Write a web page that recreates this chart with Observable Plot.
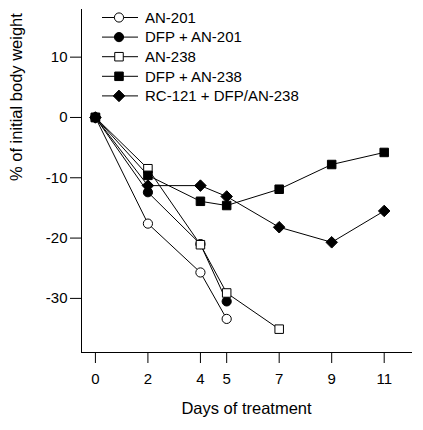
<!DOCTYPE html>
<html><head><meta charset="utf-8">
<script src="https://cdn.jsdelivr.net/npm/d3@7"></script>
<script src="https://cdn.jsdelivr.net/npm/@observablehq/plot@0.6"></script>
<style>
body{margin:0;background:#fff}
svg{font-family:"Liberation Sans",Arial,Helvetica,sans-serif}
</style>
</head><body><div id="chart"></div>
<script>
// ---- data ----
const xTickDays = [0, 2, 4, 5, 7, 9, 11];
const yTickValues = [-30, -20, -10, 0, 10];
const seriesNames = ["AN-201", "DFP + AN-201", "AN-238", "DFP + AN-238", "RC-121 + DFP/AN-238"];
const daysAN201 = [0, 2, 4, 5];
const valuesAN201 = [0, -17.6, -25.7, -33.4];
const daysDFPAN201 = [0, 2, 4, 5];
const valuesDFPAN201 = [0, -12.4, -21.0, -30.5];
const daysAN238 = [0, 2, 4, 5, 7];
const valuesAN238 = [0, -8.5, -21.1, -29.1, -35.1];
const daysDFPAN238 = [0, 2, 4, 5, 7, 9, 11];
const valuesDFPAN238 = [0, -9.6, -13.9, -14.6, -11.9, -7.8, -5.8];
const daysRC121 = [0, 2, 4, 5, 7, 9, 11];
const valuesRC121 = [0, -11.3, -11.3, -13.1, -18.2, -20.7, -15.5];
const xTitle = "Days of treatment";
const yTitle = "% of initial body weight";

// ---- build table ----
const seriesDays = [daysAN201, daysDFPAN201, daysAN238, daysDFPAN238, daysRC121];
const seriesValues = [valuesAN201, valuesDFPAN201, valuesAN238, valuesDFPAN238, valuesRC121];
const styles = [
  {symbol: "circle", fill: "white", r: 4.6},
  {symbol: "circle", fill: "black", r: 4.6},
  {symbol: "square", fill: "white", r: 4.8},
  {symbol: "square", fill: "black", r: 4.8},
  {symbol: "diamond2", fill: "black", r: 5.2}
];
const rows = [];
seriesNames.forEach((name, i) => {
  seriesDays[i].forEach((d, j) => rows.push({series: name, idx: i, day: d, value: seriesValues[i][j]}));
});

const marks = [
  Plot.frame({anchor: "left", stroke: "black"}),
  Plot.frame({anchor: "bottom", stroke: "black"}),
  Plot.axisY({ticks: yTickValues, tickSize: 11, tickPadding: 3, fontSize: 15, label: null, tickFormat: d => String(d)}),
  Plot.axisX({ticks: xTickDays, tickSize: 11, tickPadding: 10, fontSize: 15, label: null, tickFormat: d => String(d)}),
  Plot.text([yTitle], {text: d => d, frameAnchor: "left", dx: -65, rotate: -90, fontSize: 16.5, fill: "black"}),
  Plot.text([xTitle], {text: d => d, frameAnchor: "bottom", dy: 61, fontSize: 16.5, fill: "black"}),
  Plot.line(rows, {x: "day", y: "value", z: "series", stroke: "black", strokeWidth: 1})
];
seriesNames.forEach((name, i) => {
  marks.push(Plot.dot(rows.filter(r => r.idx === i), {
    x: "day", y: "value", symbol: styles[i].symbol, r: styles[i].r,
    fill: styles[i].fill, stroke: "black", strokeWidth: 1
  }));
});

const chart = Plot.plot({
  width: 423, height: 430,
  marginLeft: 81, marginRight: 12, marginTop: 9, marginBottom: 78,
  x: {domain: [-0.53, 12.04]},
  y: {domain: [-38.97, 17.9]},
  style: {fontFamily: '"Liberation Sans", Arial, sans-serif', color: "black", background: "white"},
  marks
});
document.getElementById("chart").appendChild(chart);

// ---- legend (inside the plot, top-left) ----
const svg = d3.select(chart);
const lg = svg.append("g").attr("transform", "translate(102,17.5)");
seriesNames.forEach((name, i) => {
  const g = lg.append("g").attr("transform", `translate(0,${i * 19.6})`);
  g.append("line").attr("x1", 0).attr("x2", 36).attr("y1", 0).attr("y2", 0).attr("stroke", "black").attr("stroke-width", 1);
  const symType = {circle: d3.symbolCircle, square: d3.symbolSquare, diamond2: d3.symbolDiamond2}[styles[i].symbol];
  g.append("path").attr("transform", "translate(17,0)")
    .attr("d", d3.symbol(symType, Math.PI * styles[i].r * styles[i].r)())
    .attr("fill", styles[i].fill).attr("stroke", "black").attr("stroke-width", 1);
  g.append("text").attr("x", 43).attr("y", 0).attr("dy", "0.35em")
    .attr("text-anchor", "start")
    .attr("font-size", 15).attr("fill", "black").text(name);
});
</script>
</body></html>
